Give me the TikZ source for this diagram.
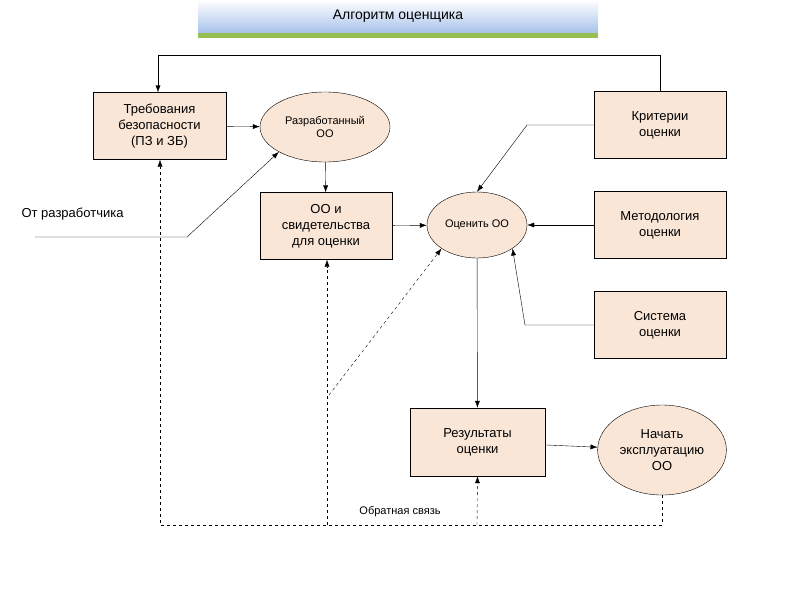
\documentclass[tikz,border=0pt]{standalone}
\usepackage{fontspec}
\setmainfont{Liberation Sans}
\usetikzlibrary{arrows.meta,shapes.geometric}
\definecolor{boxfill}{RGB}{250,230,215}
\definecolor{titleblue}{RGB}{170,195,235}
\definecolor{titlegreen}{RGB}{150,190,80}
\tikzset{
  block/.style={draw, fill=boxfill, minimum width=133pt, minimum height=67pt, align=center, font=\fontsize{13}{16}\selectfont},
  oval/.style={draw, ellipse, fill=boxfill, align=center, font=\fontsize{11}{13}\selectfont},
  arr/.style={-{Latex[length=7pt,width=5pt]}},
  fb/.style={arr, dashed}
}
\begin{document}
\begin{tikzpicture}[x=1pt,y=-1pt]
  \useasboundingbox[fill=white] (0,0) rectangle (800,600);
  % title
  \fill[titlegreen] (198,30) rectangle (598,38);
  \shade[top color=white, bottom color=titleblue] (198,0) rectangle (598,32);
  \node[font=\fontsize{14}{16}\selectfont] (title) at (398,16) {Алгоритм оценщика};

  \node[block] (req) at (159.5,126) {Требования\\безопасности\\(ПЗ и ЗБ)};
  \node[oval, minimum width=130pt, minimum height=70pt] (dev) at (325,127) {Разработанный\\ОО};
  \node[block, minimum width=132pt] (evid) at (326,226) {ОО и\\свидетельства\\для оценки};
  \node[oval, minimum width=100pt, minimum height=66pt] (eval) at (477,225) {Оценить ОО};
  \node[block, minimum width=132pt] (crit) at (660,125) {Критерии\\оценки};
  \node[block, minimum width=132pt] (meth) at (660,225) {Методология\\оценки};
  \node[block, minimum width=132pt] (sys) at (660,325) {Система\\оценки};
  \node[block, minimum width=135pt, minimum height=68pt] (res) at (477.5,442) {Результаты\\оценки};
  \node[oval, minimum width=124pt, minimum height=90pt, font=\fontsize{13}{16}\selectfont] (start) at (662,450) {Начать\\эксплуатацию\\ОО};
  \node[font=\fontsize{13}{16}\selectfont, anchor=west] (src) at (18,214) {От разработчика};
  \coordinate (srcend) at (35,237);
  \node[font=\fontsize{11}{13}\selectfont] (fblabel) at (400,512) {Обратная связь};

  \draw[arr] (crit.north) |- (158,55) -- (req.north -| 158,0);
  \draw[arr] (req) -- (dev);
  \draw[arr] (dev) -- (evid);
  \draw[arr] (evid) -- (eval);
  \draw[arr] (crit.west) -- (527,125) -- (eval.north);
  \draw[arr] (meth) -- (eval);
  \draw[arr] (sys.west) -- (525,325) -- (eval.south east);
  \draw[arr] (eval) -- (res);
  \draw[arr] (res) -- (start);
  \draw[arr] (srcend) -- (187,237) -- (dev.south west);
  \draw[fb] (start.south) |- (160,525) -- (req.south -| 160,0);
  \draw[fb] (327,525) -- (evid.south -| 327,0);
  \draw[fb] (329,395) -- (eval.south west);
  \draw[fb] (477,525) -- (res.south);
\end{tikzpicture}
\end{document}
